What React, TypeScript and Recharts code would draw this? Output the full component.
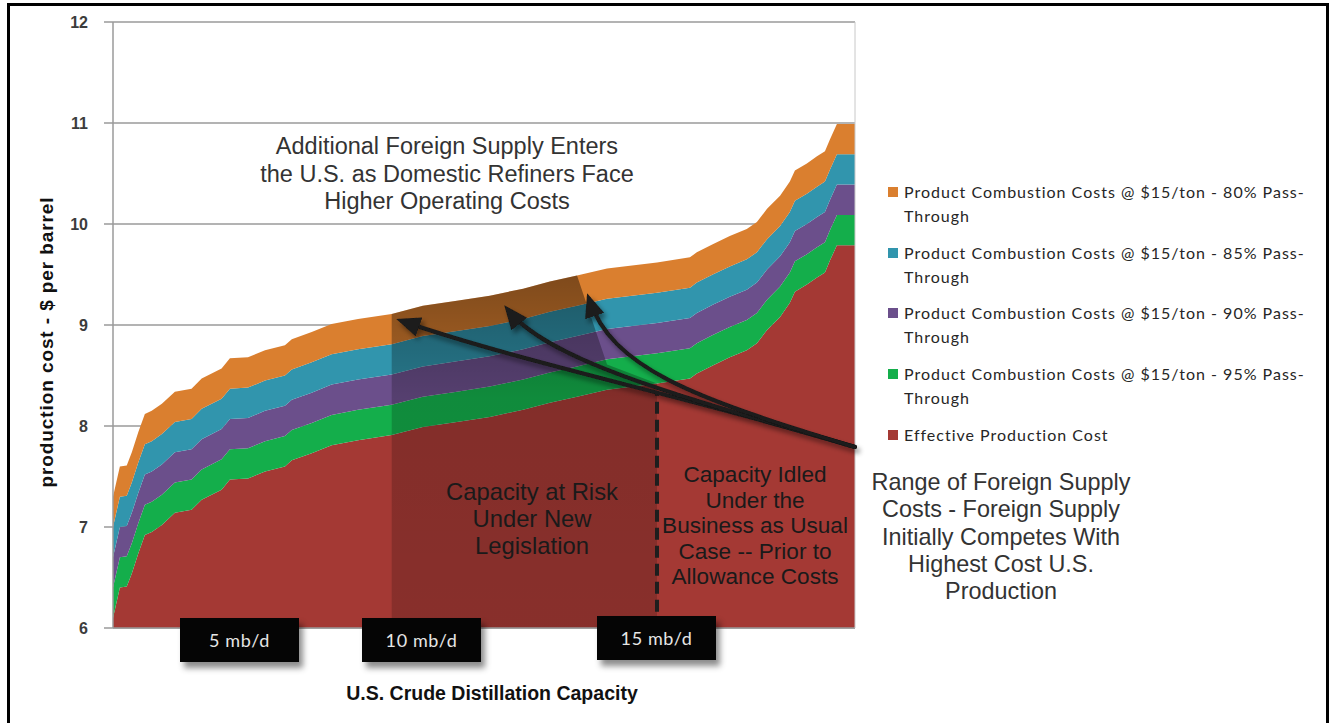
import { AreaChart, Area, XAxis, YAxis, CartesianGrid, ReferenceLine } from "recharts";

// cumulative U.S. crude distillation capacity (mb/d) at each step of the cost curve
const capacity = [
  0, 0.19, 0.38, 0.52, 0.7, 0.88, 1.07, 1.35, 1.71, 2.17, 2.45, 3.0, 3.23, 3.73, 4.2,
  4.75, 4.94, 5.49, 6.04, 6.77, 7.7, 8.56, 9.5, 10.41, 11.33, 12.07, 12.82, 13.65, 15.03, 15.94,
  16.13, 16.57, 17.04, 17.51, 17.79, 18.07, 18.43, 18.7, 18.84, 19.17, 19.45, 19.67, 19.81, 20.0, 20.5,
];
// $ per barrel
const effectiveCost = [
  6.1, 6.4, 6.41, 6.54, 6.74, 6.92, 6.95, 7.02, 7.14, 7.17, 7.27, 7.37, 7.47, 7.48, 7.55,
  7.6, 7.66, 7.73, 7.81, 7.86, 7.91, 7.99, 8.04, 8.09, 8.16, 8.23, 8.29, 8.36, 8.42, 8.47,
  8.52, 8.6, 8.68, 8.75, 8.82, 8.95, 9.08, 9.22, 9.33, 9.4, 9.47, 9.52, 9.64, 9.79, 9.79,
];
const pass95 = [
  0.3, 0.3, 0.3, 0.3, 0.3, 0.3, 0.3, 0.3, 0.3, 0.3, 0.3, 0.3, 0.3, 0.3, 0.3,
  0.3, 0.3, 0.3, 0.3, 0.3, 0.3, 0.3, 0.3, 0.3, 0.3, 0.3, 0.3, 0.3, 0.3, 0.3,
  0.3, 0.3, 0.3, 0.3, 0.3, 0.3, 0.3, 0.3, 0.3, 0.3, 0.3, 0.3, 0.3, 0.3, 0.3,
];
const pass90 = [
  0.3, 0.3, 0.3, 0.3, 0.3, 0.3, 0.3, 0.3, 0.3, 0.3, 0.3, 0.3, 0.3, 0.3, 0.3,
  0.3, 0.3, 0.3, 0.3, 0.3, 0.3, 0.3, 0.3, 0.3, 0.3, 0.3, 0.3, 0.3, 0.3, 0.3,
  0.3, 0.3, 0.3, 0.3, 0.3, 0.3, 0.3, 0.3, 0.3, 0.3, 0.3, 0.3, 0.3, 0.3, 0.3,
];
const pass85 = [
  0.3, 0.3, 0.3, 0.3, 0.3, 0.3, 0.3, 0.3, 0.3, 0.3, 0.3, 0.3, 0.3, 0.3, 0.3,
  0.3, 0.3, 0.3, 0.3, 0.3, 0.3, 0.3, 0.3, 0.3, 0.3, 0.3, 0.3, 0.3, 0.3, 0.3,
  0.3, 0.3, 0.3, 0.3, 0.3, 0.3, 0.3, 0.3, 0.3, 0.3, 0.3, 0.3, 0.3, 0.3, 0.3,
];
const pass80 = [
  0.3, 0.3, 0.3, 0.3, 0.3, 0.3, 0.3, 0.3, 0.3, 0.3, 0.3, 0.3, 0.3, 0.3, 0.3,
  0.3, 0.3, 0.3, 0.3, 0.3, 0.3, 0.3, 0.3, 0.3, 0.3, 0.3, 0.3, 0.3, 0.3, 0.3,
  0.3, 0.3, 0.3, 0.3, 0.3, 0.3, 0.3, 0.3, 0.3, 0.3, 0.3, 0.3, 0.3, 0.3, 0.3,
];

const yTicks = [6, 7, 8, 9, 10, 11, 12];
const boxLabels = ["5 mb/d", "10 mb/d", "15 mb/d"];

const series = [
  { key: "effective", name: "Effective Production Cost", color: "#A43934" },
  { key: "p95", name: "Product Combustion Costs @ $15/ton - 95% Pass-Through", color: "#14AE4B" },
  { key: "p90", name: "Product Combustion Costs @ $15/ton - 90% Pass-Through", color: "#6B4F8B" },
  { key: "p85", name: "Product Combustion Costs @ $15/ton - 85% Pass-Through", color: "#3195AD" },
  { key: "p80", name: "Product Combustion Costs @ $15/ton - 80% Pass-Through", color: "#DA7F2F" },
];

// "capacity at risk" shading: from the first arrow to the third, then falls to the dashed line
const riskStart = 7.7;
const arrowEdge = 12.82;
const riskEnd = 15.03;

const data = capacity.map((cap, i) => {
  const total = effectiveCost[i] + pass95[i] + pass90[i] + pass85[i] + pass80[i];
  let shade: number[] | null = null;
  if (cap >= riskStart && cap <= arrowEdge) shade = [6, total];
  else if (cap > arrowEdge && cap < riskEnd) shade = [6, effectiveCost[i] + 0.25];
  else if (cap === riskEnd) shade = [6, effectiveCost[i]];
  return {
    cap,
    effective: effectiveCost[i],
    p95: pass95[i],
    p90: pass90[i],
    p85: pass85[i],
    p80: pass80[i],
    shade,
  };
});

const annotFont = "'Liberation Sans', Arial, sans-serif";
const legendFont = "Lato, 'Open Sans', sans-serif";

export default function App() {
  const legendItems = [...series].reverse();
  return (
    <div
      style={{
        position: "absolute",
        left: 0,
        top: 0,
        width: 1337,
        height: 723,
        background: "#fff",
        overflow: "hidden",
      }}
    >
      <div
        style={{
          position: "absolute",
          left: 7,
          top: 3,
          width: 1316,
          height: 730,
          border: "3px solid #000",
        }}
      />
      <div style={{ position: "absolute", left: 0, top: 0 }}>
        <AreaChart
          width={1337}
          height={723}
          data={data}
          margin={{ top: 22, right: 472, bottom: 94, left: 53 }}
        >
          <defs>
            <linearGradient id="riskGrad" x1="0" y1="0" x2="0" y2="1">
              <stop offset="0" stopColor="#000" stopOpacity={0.42} />
              <stop offset="0.35" stopColor="#000" stopOpacity={0.2} />
              <stop offset="1" stopColor="#000" stopOpacity={0.17} />
            </linearGradient>
          </defs>
          <CartesianGrid
            yAxisId="l"
            vertical={false}
            stroke="#9a9a9a"
            strokeWidth={1.5}
          />
          <XAxis
            dataKey="cap"
            type="number"
            domain={[0, 20.5]}
            height={1}
            tick={false}
            tickLine={false}
            axisLine={{ stroke: "#9a9a9a", strokeWidth: 1.5 }}
          />
          <YAxis
            yAxisId="l"
            domain={[6, 12]}
            ticks={yTicks}
            allowDataOverflow
            width={60}
            tickSize={9}
            tickMargin={16}
            axisLine={{ stroke: "#9a9a9a", strokeWidth: 1.5 }}
            tickLine={{ stroke: "#9a9a9a", strokeWidth: 1.5 }}
            tick={{ fill: "#3c3c3c", fontSize: 16, fontWeight: 700, fontFamily: annotFont }}
          />
          <YAxis
            yAxisId="r"
            orientation="right"
            domain={[6, 12]}
            ticks={yTicks}
            width={10}
            tickSize={6}
            tick={false}
            axisLine={{ stroke: "#c8c8c8" }}
            tickLine={{ stroke: "#9a9a9a", strokeWidth: 1.5 }}
          />
          {series.map((s) => (
            <Area
              key={s.key}
              yAxisId="l"
              type="linear"
              dataKey={s.key}
              stackId="cost"
              stroke="none"
              fill={s.color}
              fillOpacity={1}
              isAnimationActive={false}
            />
          ))}
          <Area
            yAxisId="l"
            type="linear"
            dataKey="shade"
            stroke="none"
            fill="url(#riskGrad)"
            fillOpacity={1}
            isAnimationActive={false}
          />
          <ReferenceLine
            yAxisId="l"
            segment={[
              { x: 15.03, y: 6.16 },
              { x: 15.03, y: 8.33 },
            ]}
            stroke="#1e1e1e"
            strokeWidth={4}
            strokeDasharray="12 6"
          />
        </AreaChart>
      </div>

      {/* callout arrows */}
      <svg
        width={1337}
        height={723}
        style={{ position: "absolute", left: 0, top: 0, pointerEvents: "none" }}
      >
        <defs>
          <marker
            id="head"
            markerUnits="userSpaceOnUse"
            markerWidth={24}
            markerHeight={20}
            refX={18}
            refY={10}
            orient="auto"
          >
            <path d="M0,0 L24,10 L0,20 Z" fill="#1a1a1a" />
          </marker>
          <filter id="sh" x="-10%" y="-10%" width="130%" height="140%">
            <feDropShadow dx="3" dy="4" stdDeviation="2.5" floodColor="#000" floodOpacity="0.45" />
          </filter>
        </defs>
        <g filter="url(#sh)" stroke="#1a1a1a" strokeWidth={4} fill="none" strokeLinecap="round">
          <path d="M855,447 C700,400 520,362 402,321" markerEnd="url(#head)" />
          <path d="M855,447 C670,394 548,360 508,310" markerEnd="url(#head)" />
          <path d="M855,447 C690,397 612,368 589,299" markerEnd="url(#head)" />
        </g>
      </svg>

      {/* capacity label boxes */}
      {boxLabels.map((t, i) => {
        const lefts = [180, 362, 597];
        const tops = [618, 618, 616];
        return (
          <div
            key={t}
            style={{
              position: "absolute",
              left: lefts[i],
              top: tops[i],
              width: 119,
              height: 44,
              background: "#050505",
              boxShadow: "4px 6px 6px rgba(0,0,0,0.45)",
              color: "#e6e6e6",
              fontFamily: legendFont,
              fontSize: 18,
              letterSpacing: 0.6,
              lineHeight: "44px",
              textAlign: "center",
            }}
          >
            {t}
          </div>
        );
      })}

      {/* axis titles */}
      <div
        style={{
          position: "absolute",
          left: 47,
          top: 342,
          transform: "translate(-50%, -50%) rotate(-90deg)",
          whiteSpace: "nowrap",
          fontFamily: annotFont,
          fontWeight: 700,
          fontSize: 19,
          letterSpacing: 0.9,
          color: "#111",
        }}
      >
        production cost - $ per barrel
      </div>
      <div
        style={{
          position: "absolute",
          left: 492,
          top: 693,
          transform: "translate(-50%, -50%)",
          whiteSpace: "nowrap",
          fontFamily: annotFont,
          fontWeight: 700,
          fontSize: 19.5,
          color: "#111",
        }}
      >
        U.S. Crude Distillation Capacity
      </div>

      {/* annotations */}
      <div
        style={{
          position: "absolute",
          left: 447,
          top: 133,
          transform: "translateX(-50%)",
          whiteSpace: "nowrap",
          textAlign: "center",
          fontFamily: annotFont,
          fontSize: 23.5,
          lineHeight: "27.5px",
          color: "#333",
        }}
      >
        Additional Foreign Supply Enters
        <br />
        the U.S. as Domestic Refiners Face
        <br />
        Higher Operating Costs
      </div>
      <div
        style={{
          position: "absolute",
          left: 532,
          top: 478,
          transform: "translateX(-50%)",
          whiteSpace: "nowrap",
          textAlign: "center",
          fontFamily: annotFont,
          fontSize: 23.8,
          lineHeight: "27px",
          color: "#1a1a1a",
        }}
      >
        Capacity at Risk
        <br />
        Under New
        <br />
        Legislation
      </div>
      <div
        style={{
          position: "absolute",
          left: 755,
          top: 462,
          transform: "translateX(-50%)",
          whiteSpace: "nowrap",
          textAlign: "center",
          fontFamily: annotFont,
          fontSize: 22.6,
          lineHeight: "25.5px",
          color: "#1a1a1a",
        }}
      >
        Capacity Idled
        <br />
        Under the
        <br />
        Business as Usual
        <br />
        Case -- Prior to
        <br />
        Allowance Costs
      </div>
      <div
        style={{
          position: "absolute",
          left: 1001,
          top: 469,
          transform: "translateX(-50%)",
          whiteSpace: "nowrap",
          textAlign: "center",
          fontFamily: annotFont,
          fontSize: 23.4,
          lineHeight: "27.3px",
          color: "#333",
        }}
      >
        Range of Foreign Supply
        <br />
        Costs - Foreign Supply
        <br />
        Initially Competes With
        <br />
        Highest Cost U.S.
        <br />
        Production
      </div>

      {/* legend */}
      {legendItems.map((s, i) => {
        const parts = s.name.split("Pass-");
        return (
          <div
            key={s.key}
            style={{
              position: "absolute",
              left: 888,
              top: 180 + i * 60.7,
              fontFamily: legendFont,
              fontSize: 16,
              lineHeight: "24px",
              color: "#262626",
              whiteSpace: "nowrap",
            }}
          >
            <span
              style={{
                position: "absolute",
                left: 0,
                top: 7,
                width: 10,
                height: 10,
                background: s.color,
              }}
            />
            <div style={{ marginLeft: 16, letterSpacing: 1.0 }}>
              {parts.length > 1 ? (
                <>
                  {parts[0]}Pass-
                  <br />
                  {parts[1]}
                </>
              ) : (
                s.name
              )}
            </div>
          </div>
        );
      })}
    </div>
  );
}
